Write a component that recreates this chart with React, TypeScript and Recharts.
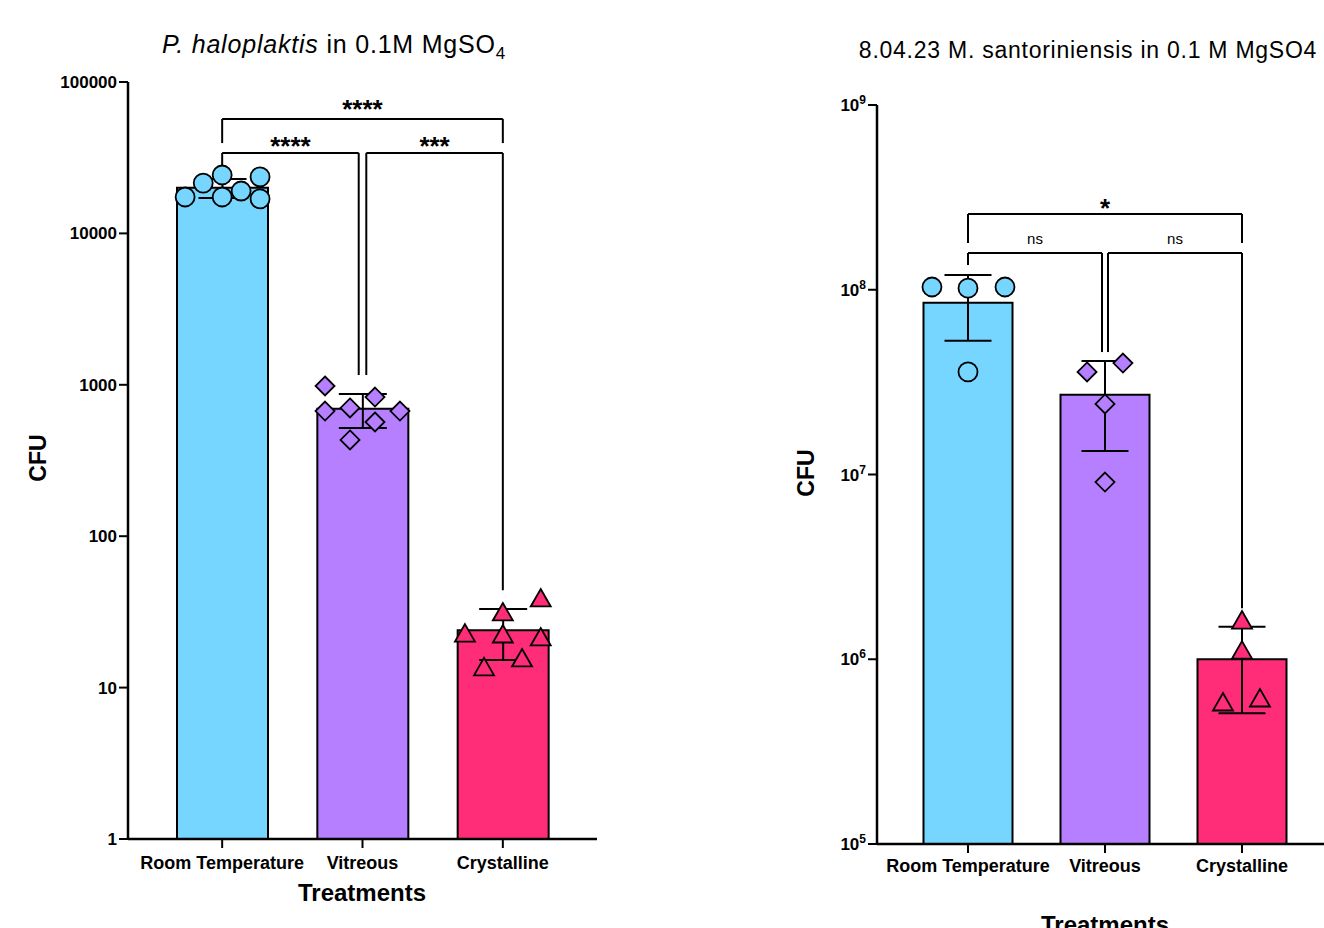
import React from "react";
import { ComposedChart, Bar, Cell, XAxis, YAxis, Scatter, ErrorBar, ReferenceLine } from "recharts";

const FONT = '"Liberation Sans", Arial, Helvetica, sans-serif';

const categories = ["Room Temperature", "Vitreous", "Crystalline"];
const barColors = ["#76D6FF", "#B67FFF", "#FF2C78"];

// P. haloplaktis (left panel)
const haloMeans = [20000, 694, 23.9];
const haloErrLow = [2860, 175, 8.7];
const haloErrHigh = [2860, 175, 9.1];
// [jitter offset, CFU]
const haloRoom = [[-0.264, 17400], [-0.135, 21500], [0, 24300], [0, 17400], [0.135, 19050], [0.27, 23600], [0.27, 16900]];
const haloVitreous = [[-0.267, 982], [-0.267, 671], [-0.089, 703], [0.089, 830], [0.267, 671], [0.089, 568], [-0.089, 432]];
const haloCrystal = [[-0.27, 22.9], [0, 31.6], [0, 22.6], [0.27, 39.1], [0.27, 21.6], [-0.134, 13.7], [0.137, 15.7]];
const haloTicks = [1, 10, 100, 1000, 10000, 100000];

// M. santoriniensis (right panel)
const santoMeans = [8.5e7, 2.7e7, 1.0e6];
const santoErrLow = [3.2e7, 1.36e7, 4.9e5];
const santoErrHigh = [3.5e7, 1.41e7, 5.0e5];
const santoRoom = [[-0.263, 1.035e8], [0, 1.02e8], [0.27, 1.035e8], [0, 3.59e7]];
const santoVitreous = [[-0.131, 3.59e7], [0.131, 4.01e7], [0, 2.41e7], [0, 9.1e6]];
const santoCrystal = [[0, 1.63e6], [0, 1.12e6], [-0.139, 5.87e5], [0.131, 6.17e5]];
const santoTicks = [1e5, 1e6, 1e7, 1e8, 1e9];

// significance brackets: x1..x2 at height y, legs down to y1 / y2
const haloBrackets = [
  { x1: 0, x2: 2, y: 57000, y1: 39500, y2: 39500, text: "****", size: 26, weight: 700, gap: 0.5 },
  { x1: 0, x2: 0.973, y: 34000, y1: 27000, y2: 1160, text: "****", size: 26, weight: 700, gap: -2.5 },
  { x1: 1.027, x2: 2, y: 34000, y1: 1160, y2: 44, text: "***", size: 26, weight: 700, gap: -2.5 },
];
const santoBrackets = [
  { x1: 0, x2: 2, y: 2.57e8, y1: 1.79e8, y2: 1.79e8, text: "*", size: 26, weight: 700, gap: -2.5 },
  { x1: 0, x2: 0.978, y: 1.58e8, y1: 1.36e8, y2: 4.6e7, text: "ns", size: 15, weight: 400, gap: 9 },
  { x1: 1.022, x2: 2, y: 1.58e8, y1: 4.6e7, y2: 1.89e6, text: "ns", size: 15, weight: 400, gap: 9 },
];

const circleShape = (fill: string) => (p: any) => (
  <circle cx={p.cx} cy={p.cy} r={9.5} fill={fill} stroke="#000" strokeWidth={1.8} />
);
const diamondShape = (fill: string) => (p: any) => (
  <polygon
    points={`${p.cx},${p.cy - 9.5} ${p.cx + 9.5},${p.cy} ${p.cx},${p.cy + 9.5} ${p.cx - 9.5},${p.cy}`}
    fill={fill}
    stroke="#000"
    strokeWidth={1.8}
  />
);
const triangleShape = (fill: string) => (p: any) => (
  <polygon
    points={`${p.cx},${p.cy - 9} ${p.cx + 10},${p.cy + 8.5} ${p.cx - 10},${p.cy + 8.5}`}
    fill={fill}
    stroke="#000"
    strokeWidth={1.8}
  />
);

const toPoints = (pts: number[][], idx: number) => pts.map(([off, v]) => ({ x: idx + off, y: v }));

const PowerTick = (props: any) => {
  const { x, y, payload } = props;
  const exp = Math.round(Math.log10(payload.value));
  return (
    <text x={x} y={y} dy="0.355em" textAnchor="end" fill="#000" fontFamily={FONT} fontWeight={700} fontSize={17}>
      <tspan>10</tspan>
      <tspan dy={-7} fontSize={12}>{exp}</tspan>
    </text>
  );
};

interface PanelProps {
  width: number;
  margin: { top: number; right: number; bottom: number; left: number };
  means: number[];
  errLow: number[];
  errHigh: number[];
  groups: number[][][];
  ticks: number[];
  brackets: typeof haloBrackets;
  barSize: number;
  pad: number;
  capWidth: number;
  tickMargin: number;
  powerTicks?: boolean;
}

const Panel = ({ width, margin, means, errLow, errHigh, groups, ticks, brackets, barSize, pad, capWidth, tickMargin, powerTicks }: PanelProps) => {
  const data = categories.map((name, i) => ({ name, mean: means[i], err: [errLow[i], errHigh[i]] }));
  const shapes = [circleShape, diamondShape, triangleShape];
  const axisStyle = { stroke: "#000", strokeWidth: 2.5 };
  const tickStyle = { stroke: "#000", strokeWidth: 2 };

  return (
    <ComposedChart width={width} height={928} margin={margin} data={data}>
      <XAxis
        xAxisId="cat"
        dataKey="name"
        type="category"
        padding={{ left: pad, right: pad }}
        height={30}
        interval={0}
        tickSize={9}
        tickMargin={tickMargin}
        axisLine={axisStyle}
        tickLine={tickStyle}
        tick={{ fill: "#000", fontSize: 18, fontWeight: 700, fontFamily: FONT }}
      />
      <XAxis xAxisId="num" dataKey="x" type="number" domain={[-0.5, 2.5]} padding={{ left: pad, right: pad }} allowDataOverflow hide />
      <YAxis
        type="number"
        scale="log"
        domain={[ticks[0], ticks[ticks.length - 1]]}
        ticks={ticks}
        interval={0}
        allowDataOverflow
        width={60}
        tickSize={9}
        tickMargin={2}
        axisLine={axisStyle}
        tickLine={tickStyle}
        tick={powerTicks ? <PowerTick /> : { fill: "#000", fontSize: 17, fontWeight: 700, fontFamily: FONT }}
      />
      <Bar xAxisId="cat" dataKey="mean" barSize={barSize} stroke="#000" strokeWidth={2} isAnimationActive={false}>
        {data.map((d, i) => (
          <Cell key={d.name} fill={barColors[i]} />
        ))}
        <ErrorBar dataKey="err" direction="y" width={capWidth} stroke="#000" strokeWidth={2} />
      </Bar>
      {brackets.map((b, i) => (
        <ReferenceLine
          key={`h${i}`}
          xAxisId="num"
          segment={[{ x: b.x1, y: b.y }, { x: b.x2, y: b.y }]}
          stroke="#000"
          strokeWidth={2}
          ifOverflow="visible"
          label={{ value: b.text, position: "top", offset: b.gap, fill: "#000", fontSize: b.size, fontWeight: b.weight, fontFamily: FONT }}
        />
      ))}
      {brackets.map((b, i) => (
        <ReferenceLine key={`l${i}`} xAxisId="num" segment={[{ x: b.x1, y: b.y }, { x: b.x1, y: b.y1 }]} stroke="#000" strokeWidth={2} ifOverflow="visible" />
      ))}
      {brackets.map((b, i) => (
        <ReferenceLine key={`r${i}`} xAxisId="num" segment={[{ x: b.x2, y: b.y }, { x: b.x2, y: b.y2 }]} stroke="#000" strokeWidth={2} ifOverflow="visible" />
      ))}
      {groups.map((g, i) => (
        <Scatter
          key={categories[i]}
          xAxisId="num"
          data={toPoints(g, i)}
          dataKey="y"
          shape={shapes[i](barColors[i])}
          isAnimationActive={false}
        />
      ))}
    </ComposedChart>
  );
};

const text = (extra: React.CSSProperties): React.CSSProperties => ({
  position: "absolute",
  fontFamily: FONT,
  color: "#000",
  whiteSpace: "nowrap",
  lineHeight: 1,
  ...extra,
});

export default function App() {
  return (
    <div style={{ position: "fixed", left: 0, top: 0, width: 1324, height: 928, overflow: "hidden", background: "#fff" }}>
      <div style={{ position: "absolute", left: 0, top: 0 }}>
        <Panel
          width={620}
          margin={{ top: 82, right: 23, bottom: 59, left: 68 }}
          means={haloMeans}
          errLow={haloErrLow}
          errHigh={haloErrHigh}
          groups={[haloRoom, haloVitreous, haloCrystal]}
          ticks={haloTicks}
          brackets={haloBrackets}
          barSize={91}
          pad={24}
          capWidth={24}
          tickMargin={8}
        />
      </div>
      <div style={{ position: "absolute", left: 700, top: 0 }}>
        <Panel
          width={660}
          margin={{ top: 105, right: 27, bottom: 54, left: 117 }}
          means={santoMeans}
          errLow={santoErrLow}
          errHigh={santoErrHigh}
          groups={[santoRoom, santoVitreous, santoCrystal]}
          ticks={santoTicks}
          brackets={santoBrackets}
          barSize={89}
          pad={22.5}
          capWidth={23.5}
          tickMargin={6}
          powerTicks
        />
      </div>

      <div style={text({ left: 134, top: 32, width: 400, textAlign: "center", fontSize: 25, letterSpacing: 0.8 })}>
        <i>P. haloplaktis</i> in 0.1M MgSO<sub style={{ fontSize: 17 }}>4</sub>
      </div>
      <div style={text({ left: 838, top: 39, width: 500, textAlign: "center", fontSize: 23, letterSpacing: 0.75 })}>
        8.04.23 M. santoriniensis in 0.1 M MgSO4
      </div>

      <div style={text({ left: 362, top: 893, transform: "translate(-50%, -50%)", fontSize: 24, fontWeight: 700 })}>Treatments</div>
      <div style={text({ left: 1105, top: 925, transform: "translate(-50%, -50%)", fontSize: 24, fontWeight: 700 })}>Treatments</div>

      <div style={text({ left: 38, top: 458, transform: "translate(-50%, -50%) rotate(-90deg)", fontSize: 23, fontWeight: 700 })}>CFU</div>
      <div style={text({ left: 806, top: 473, transform: "translate(-50%, -50%) rotate(-90deg)", fontSize: 23, fontWeight: 700 })}>CFU</div>
    </div>
  );
}
